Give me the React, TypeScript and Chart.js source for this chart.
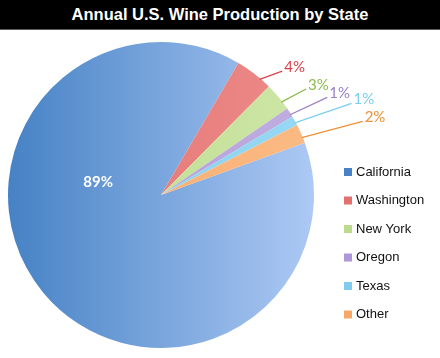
import React, { useEffect, useRef } from "react";
import { Chart, registerables } from "chart.js";

Chart.register(...registerables);

const titleText = "Annual U.S. Wine Production by State";
const states = ["California", "Washington", "New York", "Oregon", "Texas", "Other"];
const shares = [89, 4, 3, 1, 1, 2];
const darkColors = ["#4682c5", "#e2706f", "#bddb8c", "#ad97d6", "#80cbee", "#f7a868"];
const lightColors = ["#adc9f4", "#ec8b89", "#cde6a6", "#c0aee0", "#98d9f3", "#fbba84"];
const labelColors = ["#ffffff", "#d8434c", "#8abd4c", "#9a80c8", "#7bcfee", "#ef9038"];
const leaderLengths = [0, 24, 28, 41, 60, 63];
const leaderAngles = [0, -20, -28, -25, -19, -15];

const annotatePlugin = {
  id: "annotate",
  afterDatasetsDraw(chart: any) {
    const ctx = chart.ctx;
    const meta = chart.getDatasetMeta(0);
    ctx.save();
    meta.data.forEach((arc: any, i: number) => {
      const { x, y, startAngle, endAngle, outerRadius } = arc.getProps(
        ["x", "y", "startAngle", "endAngle", "outerRadius"],
        true
      );
      const text = shares[i] + "%";
      if (i === 0) {
        const a = ((282 - 90) * Math.PI) / 180;
        const r = outerRadius * 0.42;
        ctx.fillStyle = labelColors[0];
        ctx.font = "bold 15px Lato";
        ctx.textAlign = "center";
        ctx.textBaseline = "middle";
        ctx.fillText(text, x + Math.cos(a) * r, y + Math.sin(a) * r + 1);
        return;
      }
      const dir = (leaderAngles[i] * Math.PI) / 180;
      const a = startAngle + (endAngle - startAngle) * 0.7;
      const sx = x + Math.cos(a) * (outerRadius - 1);
      const sy = y + Math.sin(a) * (outerRadius - 1);
      const len = leaderLengths[i];
      const ex = sx + Math.cos(dir) * len;
      const ey = sy + Math.sin(dir) * len;
      ctx.strokeStyle = labelColors[i];
      ctx.lineWidth = 1.3;
      ctx.beginPath();
      ctx.moveTo(sx, sy);
      ctx.lineTo(ex, ey);
      ctx.stroke();
      ctx.fillStyle = labelColors[i];
      ctx.font = "15px Lato";
      ctx.textAlign = "left";
      ctx.textBaseline = "middle";
      ctx.fillText(text, ex + 2, ey - 4);
    });

    // legend
    const lx = 344;
    const top = 142;
    const step = 28.5;
    ctx.font = "13px 'Liberation Sans'";
    ctx.textAlign = "left";
    ctx.textBaseline = "middle";
    states.forEach((s, i) => {
      const cy = top + i * step;
      ctx.fillStyle = darkColors[i];
      ctx.fillRect(lx, cy - 4, 8, 8);
      ctx.fillStyle = "#111";
      ctx.fillText(s, lx + 12, cy);
    });
    ctx.restore();
  },
};

export default function App() {
  const ref = useRef<HTMLCanvasElement>(null);
  useEffect(() => {
    document.body.style.margin = "0";
    const canvas = ref.current!;
    const chart = new Chart(canvas, {
      type: "pie",
      data: {
        labels: states,
        datasets: [
          {
            data: shares,
            borderWidth: 0,
            backgroundColor: (c: any) => {
              const i = c.dataIndex;
              const area = c.chart.chartArea;
              if (!area) return darkColors[i];
              const g = c.chart.ctx.createLinearGradient(area.left, 0, area.right, 0);
              g.addColorStop(0, darkColors[i]);
              g.addColorStop(1, lightColors[i]);
              return g;
            },
          },
        ],
      },
      options: {
        animation: false,
        responsive: false,
        rotation: 70,
        layout: { padding: { left: 8, right: 126, top: 12, bottom: 10 } },
        plugins: {
          legend: { display: false },
          tooltip: { enabled: false },
          title: { display: false },
        },
      },
      plugins: [annotatePlugin],
    });
    return () => chart.destroy();
  }, []);
  return (
    <div style={{ width: 440, height: 358, background: "#fff", overflow: "hidden" }}>
      <div
        style={{
          height: 29,
          background: "#000",
          borderBottom: "1px solid #5a5a5a",
          color: "#fff",
          fontFamily: "'Liberation Sans', Arial, sans-serif",
          fontWeight: "bold",
          fontSize: 16.5,
          lineHeight: "29px",
          textAlign: "center",
        }}
      >
        {titleText}
      </div>
      <canvas ref={ref} width={440} height={328} style={{ display: "block" }} />
    </div>
  );
}
